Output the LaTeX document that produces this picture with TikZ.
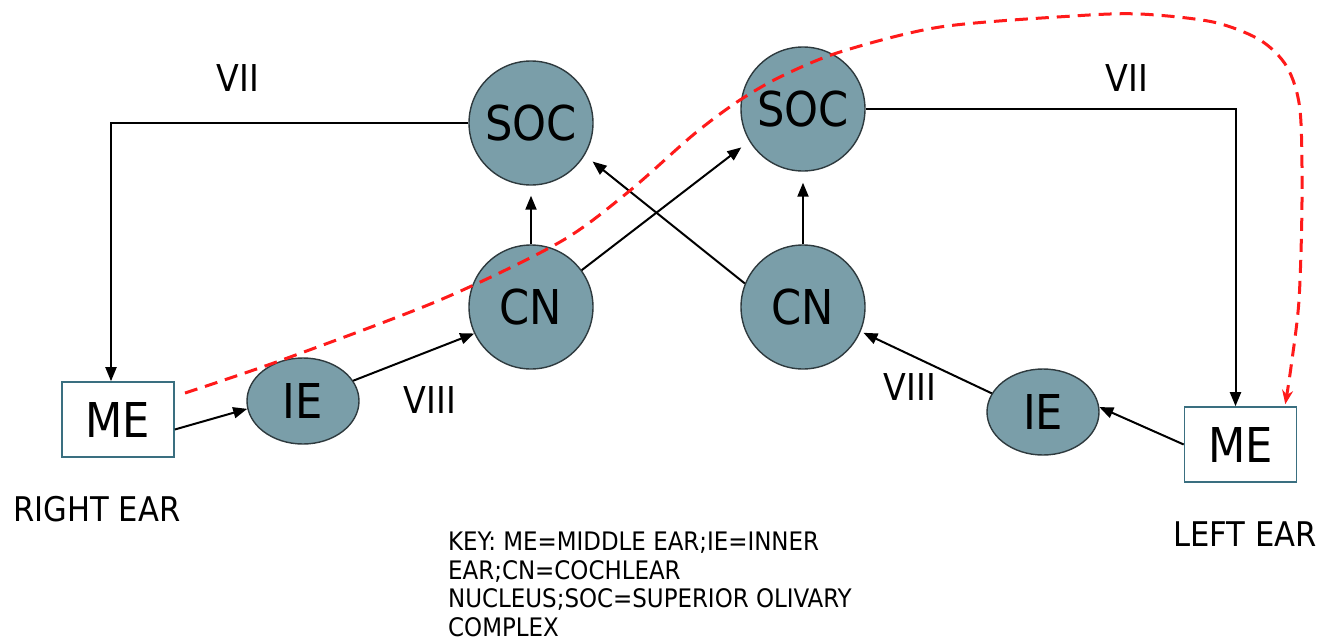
\documentclass[tikz,border=0pt]{standalone}
\usepackage{fontspec}
\setmainfont{DejaVu Sans Condensed}
\usetikzlibrary{arrows.meta,shapes.geometric,calc}
\definecolor{nodefill}{HTML}{7A9EA9}
\definecolor{nodeline}{HTML}{2E3A3E}
\definecolor{boxline}{HTML}{3A6F80}
\definecolor{redline}{HTML}{FF1A1A}
\tikzset{
  nucleus/.style={circle, draw=nodeline, line width=1.4pt, fill=nodefill, minimum size=124pt, inner sep=0pt, font=\fontsize{48}{50}\selectfont},
  inner/.style={ellipse, draw=nodeline, line width=1.4pt, fill=nodefill, minimum width=112pt, minimum height=86pt, inner sep=0pt, font=\fontsize{48}{50}\selectfont},
  mebox/.style={rectangle, draw=boxline, line width=1.6pt, fill=white, minimum width=112pt, minimum height=75pt, inner sep=0pt, font=\fontsize{48}{50}\selectfont},
  conn/.style={draw=black, line width=2pt, -{Triangle[length=14pt,width=11pt]}},
  nerve/.style={font=\fontsize{37}{40}\selectfont, inner sep=0pt},
  earlabel/.style={font=\fontsize{34}{36}\selectfont, inner sep=0pt},
  reddash/.style={draw=redline, line width=3pt, dash pattern=on 13pt off 8pt, -{Stealth[length=14pt,width=11pt]}},
}
\begin{document}
\begin{tikzpicture}[x=1pt,y=-1pt]
\useasboundingbox[fill=white] (0,0) rectangle (1320,640);
% nodes
\node[nucleus] (socL) at (531,123) {SOC};
\node[nucleus] (socR) at (803,109) {SOC};
\node[nucleus] (cnL) at (531,307) {CN};
\node[nucleus] (cnR) at (803,307) {CN};
\node[inner] (ieL) at (303,401) {IE};
\node[inner] (ieR) at (1043,412) {IE};
\node[mebox] (meL) at (118,419.5) {ME};
\node[mebox] (meR) at (1240.5,444.5) {ME};
% labels
\node[nerve] (viiL) at (238,78) {VII};
\node[nerve] (viiR) at (1127,78) {VII};
\node[nerve] (viiiL) at (430,400) {VIII};
\node[nerve] (viiiR) at (910,387) {VIII};
\node[earlabel] (rightear) at (97,509) {RIGHT EAR};
\node[earlabel] (leftear) at (1245,534) {LEFT EAR};
\node[anchor=north west, inner sep=0pt, align=left, font=\fontsize{25.5}{28.5}\selectfont] (key) at (448,532)
  {KEY: ME=MIDDLE EAR;IE=INNER\\EAR;CN=COCHLEAR\\NUCLEUS;SOC=SUPERIOR OLIVARY\\COMPLEX};
% connectors
\draw[conn] (socL.west) -| ([xshift=-7pt]meL.north);
\draw[conn] (socR.east) -| ([xshift=-5pt]meR.north);
\draw[conn] ([yshift=-10pt]meL.east) -- (ieL.188);
\draw[conn] (ieL.22) -- (cnL.205);
\draw[conn, shorten >=10pt] (cnL.north) -- (socL.south);
\draw[conn, shorten >=11pt] (cnR.north) -- (socR.south);
\draw[conn, shorten >=10pt] (cnL.36) -- (socR.211);
\draw[conn, shorten >=10pt] (cnR.158) -- (socL.329);
\draw[conn, shorten >=3pt] (ieR.160) -- (cnR.337);
\draw[conn] (meR.west) -- (ieR.5);
% red dashed path
\coordinate (rs) at (185,393);
\coordinate (re) at ([xshift=-12pt,yshift=2pt]meR.north east);
\draw[reddash] plot[smooth, tension=0.5] coordinates {(rs) (282,360) (440,300) (560,242) (627,193) (693,135) (737,102) (780,77) (840,52) (940,27) (1073,16) (1140,14) (1213,22) (1260,40) (1287,67) (1300,110) (1302,200) (1299,300) (1291,367) (re)};
\end{tikzpicture}
\end{document}
